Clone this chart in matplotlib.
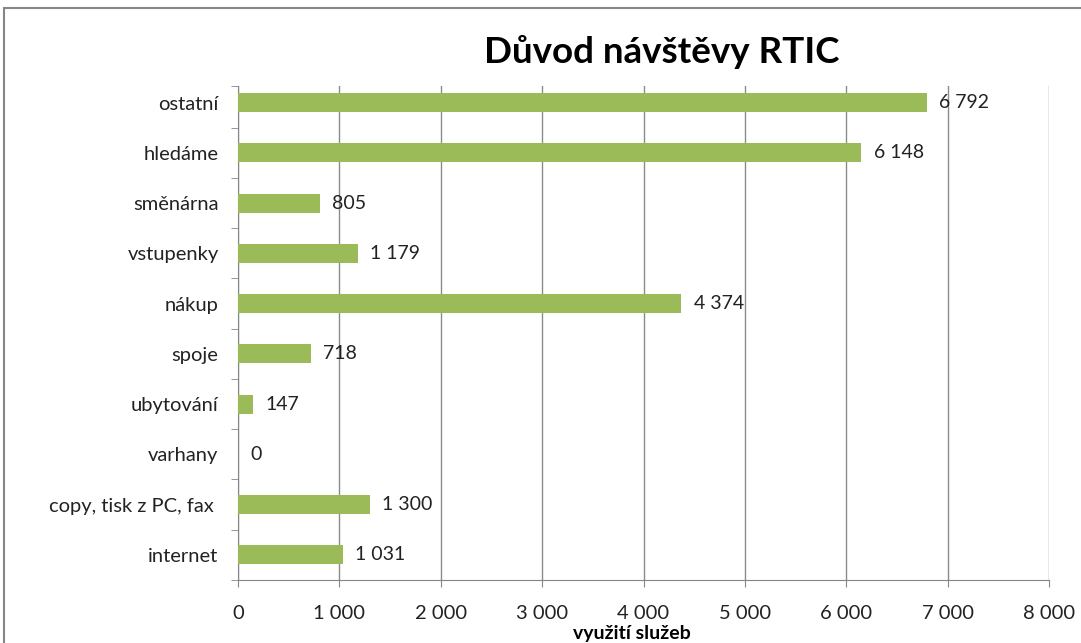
import matplotlib.pyplot as plt
import numpy as np
from matplotlib.patches import Rectangle

# data, bottom to top as drawn
categories = ["internet", "copy, tisk z PC, fax ", "varhany", "ubytování", "spoje",
              "nákup", "vstupenky", "směnárna", "hledáme", "ostatní"]
values = [1031, 1300, 0, 147, 718, 4374, 1179, 805, 6148, 6792]
xticks = [0, 1000, 2000, 3000, 4000, 5000, 6000, 7000, 8000]

def fmt(v):
    return "{:,}".format(v).replace(",", " ")

plt.rcParams['font.family'] = ['Lato', 'DejaVu Sans']
txt = "#222222"

fig = plt.figure(figsize=(10.81, 6.43), dpi=100)
ax = fig.add_axes([238/1081, 1-580/643, (1049-238)/1081, (580-86)/643])

y = np.arange(len(categories))
ax.barh(y, values, height=0.38, color="#9BBB59", zorder=3)
for yi, v in zip(y, values):
    ax.annotate(fmt(v), (v, yi), xytext=(9, 0), textcoords="offset points",
                va="center", ha="left", fontsize=14, color=txt)

ax.set_xlim(0, 8000)
ax.set_ylim(-0.5, 9.33)
ax.set_xticks(xticks)
ax.set_xticklabels([fmt(t) for t in xticks], fontsize=14.5, color=txt)
ax.set_yticks(y)
ax.set_yticklabels(categories, fontsize=14.5, color=txt)
ax.set_yticks(list(np.arange(-0.5, 9, 1.0)) + [9.33], minor=True)
ax.tick_params(axis="y", which="major", length=0, pad=14)
ax.tick_params(axis="y", which="minor", length=5, color="#868686", direction="out")
ax.tick_params(axis="x", length=5, color="#868686", pad=13)
ax.grid(axis="x", color="#8c8c8c", linewidth=1, zorder=0)
for s in ["top", "right"]:
    ax.spines[s].set_visible(False)
for s in ["left", "bottom"]:
    ax.spines[s].set_color("#868686")

fig.text(662/1081, 1-52/643, "Důvod návštěvy RTIC", ha="center", va="center",
         fontsize=26.5, fontweight="bold")
fig.text(632/1081, 1-633/643, "využití služeb", ha="center", va="center",
         fontsize=14, fontweight="bold")

fig.patches.append(Rectangle((4/1081, -0.05), 1.2, 1-8/643+0.05, transform=fig.transFigure,
                             fill=False, edgecolor="#868686", linewidth=1.5))

fig.savefig("out.png", dpi=100)
